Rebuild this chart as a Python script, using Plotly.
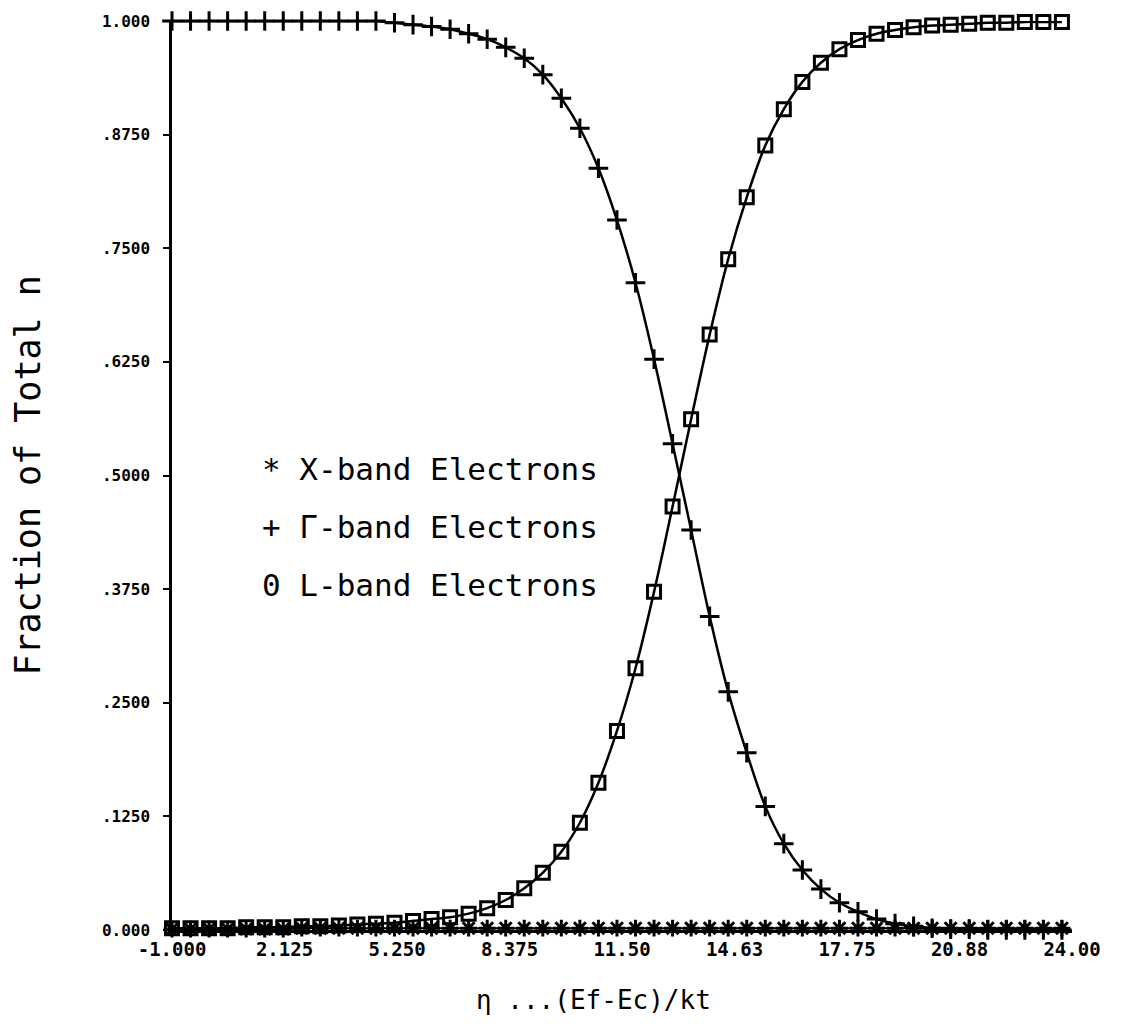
import plotly.graph_objects as go

# eta values (reduced Fermi level) of the computed points
eta = [-1.000, -0.485, 0.030, 0.545, 1.060, 1.575, 2.090, 2.605, 3.120, 3.635,
       4.150, 4.665, 5.180, 5.695, 6.210, 6.725, 7.240, 7.755, 8.270, 8.785,
       9.300, 9.815, 10.330, 10.845, 11.360, 11.875, 12.390, 12.905, 13.420, 13.935,
       14.450, 14.965, 15.480, 15.995, 16.510, 17.025, 17.540, 18.055, 18.570, 19.085,
       19.600, 20.115, 20.630, 21.145, 21.660, 22.175, 22.690, 23.205, 23.720]

gamma_band = [1.000, 1.000, 1.000, 1.000, 1.000, 1.000, 1.000, 1.000, 1.000, 1.000,
              1.000, 1.000, 0.998, 0.996, 0.994, 0.991, 0.986, 0.980, 0.971, 0.959,
              0.941, 0.915, 0.882, 0.838, 0.781, 0.712, 0.628, 0.535, 0.440, 0.345,
              0.262, 0.195, 0.136, 0.095, 0.066, 0.045, 0.030, 0.020, 0.012, 0.007,
              0.004, 0.002, 0.001, 0.001, 0.000, 0.000, 0.000, 0.000, 0.000]

l_band = [0.002, 0.002, 0.002, 0.002, 0.003, 0.003, 0.003, 0.004, 0.004, 0.005,
          0.006, 0.007, 0.008, 0.010, 0.012, 0.014, 0.018, 0.024, 0.033, 0.046,
          0.063, 0.086, 0.118, 0.162, 0.219, 0.288, 0.372, 0.466, 0.562, 0.655,
          0.738, 0.806, 0.863, 0.903, 0.933, 0.954, 0.969, 0.979, 0.986, 0.990,
          0.993, 0.995, 0.996, 0.997, 0.998, 0.998, 0.999, 0.999, 0.999]

x_band = [0.001, 0.001, 0.001, 0.001, 0.001, 0.001, 0.001, 0.002, 0.002, 0.002,
          0.002, 0.002, 0.002, 0.002, 0.002, 0.002, 0.002, 0.002, 0.002, 0.002,
          0.002, 0.002, 0.002, 0.002, 0.002, 0.002, 0.002, 0.002, 0.002, 0.002,
          0.002, 0.002, 0.002, 0.002, 0.002, 0.002, 0.002, 0.002, 0.002, 0.002,
          0.002, 0.002, 0.002, 0.002, 0.002, 0.002, 0.002, 0.002, 0.002]

x_tick_vals = [-1.0, 2.125, 5.25, 8.375, 11.5, 14.625, 17.75, 20.875, 24.0]
x_tick_text = ["-1.000", "2.125", "5.250", "8.375", "11.50", "14.63", "17.75", "20.88", "24.00"]
y_tick_vals = [0.0, 0.125, 0.25, 0.375, 0.5, 0.625, 0.75, 0.875, 1.0]
y_tick_text = ["0.000", ".1250", ".2500", ".3750", ".5000", ".6250", ".7500", ".8750", "1.000"]

legend_lines = ["* X-band Electrons", "+ Γ-band Electrons", "0 L-band Electrons"]
legend_y = [0.507, 0.443, 0.380]

x_title = "η ...(Ef-Ec)/kt"
y_title = "Fraction of Total n"

FONT = "DejaVu Sans Mono"
INK = "black"

fig = go.Figure()

fig.add_trace(go.Scatter(
    x=eta, y=x_band, mode="lines+markers", name="X-band Electrons",
    line=dict(color=INK, width=2, shape="spline"),
    marker=dict(symbol="asterisk-open", size=14, line=dict(color=INK, width=3)),
    cliponaxis=False))

fig.add_trace(go.Scatter(
    x=eta, y=gamma_band, mode="lines+markers", name="Γ-band Electrons",
    line=dict(color=INK, width=2.5, shape="spline"),
    marker=dict(symbol="cross-thin-open", size=14, line=dict(color=INK, width=3)),
    cliponaxis=False))

fig.add_trace(go.Scatter(
    x=eta, y=l_band, mode="lines+markers", name="L-band Electrons",
    line=dict(color=INK, width=2.5, shape="spline"),
    marker=dict(symbol="square-open", size=13, line=dict(color=INK, width=3)),
    cliponaxis=False))

for txt, yy in zip(legend_lines, legend_y):
    fig.add_annotation(x=1.45, y=yy, xref="x", yref="y", text=txt, showarrow=False,
                       xanchor="left", yanchor="middle",
                       font=dict(family=FONT, size=31, color=INK))

fig.add_annotation(x=10.7, y=-0.077, xref="x", yref="paper", text=x_title,
                   showarrow=False, xanchor="center", yanchor="middle",
                   font=dict(family=FONT, size=26, color=INK))
fig.add_annotation(x=-0.161, y=0.5, xref="paper", yref="paper", text=y_title,
                   showarrow=False, xanchor="center", yanchor="middle", textangle=-90,
                   font=dict(family=FONT, size=35, color=INK))

fig.update_layout(
    width=1147, height=1026,
    margin=dict(l=172, r=75, t=18, b=96),
    paper_bgcolor="white", plot_bgcolor="white",
    showlegend=False,
    font=dict(family=FONT, color=INK),
)

fig.update_xaxes(
    range=[-1, 24], tickmode="array", tickvals=x_tick_vals, ticktext=x_tick_text,
    showgrid=False, zeroline=False, showline=True, linecolor=INK, linewidth=2.5,
    ticks="", ticklabelstandoff=0,
    tickfont=dict(family=FONT, size=19, color=INK, weight="bold"),
)
fig.update_yaxes(
    range=[0, 1], tickmode="array", tickvals=y_tick_vals, ticktext=y_tick_text,
    showgrid=False, zeroline=False, showline=True, linecolor=INK, linewidth=2.5,
    ticks="outside", ticklen=6, tickwidth=2, tickcolor=INK, ticklabelstandoff=10,
    tickfont=dict(family=FONT, size=16, color=INK, weight="bold"),
)

fig.write_html("out.html")
